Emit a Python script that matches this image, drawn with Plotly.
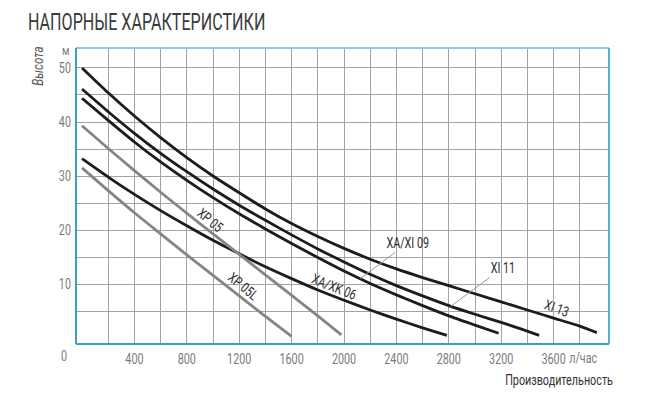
import numpy as np
import plotly.graph_objects as go

# ---------------- data ----------------
flow_xi13 = [0, 200, 400, 600, 800, 1000, 1200, 1400, 1600, 1800, 2000, 2200, 2400, 2600, 2800, 3000, 3200, 3400, 3600, 3800, 3930]
head_xi13 = [50.0, 45.4, 41.1, 37.1, 33.4, 30.0, 26.9, 23.9, 21.2, 18.8, 16.6, 14.6, 12.8, 11.2, 9.7, 8.2, 6.7, 5.2, 3.7, 2.2, 1.0]

flow_xi11 = [0, 200, 400, 600, 800, 1000, 1200, 1400, 1600, 1800, 2000, 2200, 2400, 2600, 2800, 3000, 3200, 3350, 3490]
head_xi11 = [46.1, 41.9, 37.9, 34.2, 30.8, 27.6, 24.6, 21.8, 19.1, 16.5, 14.1, 11.8, 9.7, 7.8, 6.0, 4.4, 2.9, 1.7, 0.5]

flow_xa09 = [0, 200, 400, 600, 800, 1000, 1200, 1400, 1600, 1800, 2000, 2200, 2400, 2600, 2800, 3000, 3180]
head_xa09 = [44.4, 40.3, 36.3, 32.6, 29.2, 26.0, 23.0, 20.2, 17.5, 14.9, 12.4, 10.1, 8.0, 6.0, 4.1, 2.4, 0.9]

flow_xa06 = [0, 200, 400, 600, 800, 1000, 1200, 1400, 1600, 1800, 2000, 2200, 2400, 2600, 2785]
head_xa06 = [33.2, 29.8, 26.6, 23.6, 20.8, 18.1, 15.6, 13.2, 11.0, 8.9, 7.0, 5.2, 3.5, 1.9, 0.5]

flow_xp05 = [0, 200, 400, 600, 800, 1000, 1200, 1400, 1600, 1800, 1980]
head_xp05 = [39.3, 35.1, 31.0, 27.0, 23.1, 19.3, 15.5, 11.7, 7.9, 4.1, 0.6]

flow_xp05l = [0, 200, 400, 600, 800, 1000, 1200, 1400, 1600]
head_xp05l = [31.5, 27.3, 23.2, 19.3, 15.4, 11.6, 7.8, 4.0, 0.3]

x_tick_values = list(range(200, 3801, 200))
x_tick_labels = [str(v) if v % 400 == 0 else "" for v in x_tick_values]
y_tick_values = list(range(5, 51, 5))
y_tick_labels = [str(v) if v % 10 == 0 else "" for v in y_tick_values]

title_text = "НАПОРНЫЕ ХАРАКТЕРИСТИКИ"
y_title = "Высота"
y_unit = "м"
x_title = "Производительность"
x_unit = "л/час"

# ---------------- styling ----------------
FONT = "Roboto, Liberation Sans, sans-serif"
BLACK = "#1c1c1c"
GREY = "#858585"
AXIS_BLUE = "#3a9fc2"
LIGHT_BLUE = "#8ccbe2"
GRID = "#a3a3a3"
TICK_COL = "#7a7a7a"

series = [
    ("XI 13", flow_xi13, head_xi13, BLACK),
    ("XI 11", flow_xi11, head_xi11, BLACK),
    ("XA/XI 09", flow_xa09, head_xa09, BLACK),
    ("XA/XK 06", flow_xa06, head_xa06, BLACK),
    ("XP 05", flow_xp05, head_xp05, GREY),
    ("XP 05L", flow_xp05l, head_xp05l, GREY),
]

fig = go.Figure()
for name, xs, ys, col in series:
    fig.add_trace(go.Scatter(
        x=xs, y=ys, mode="lines", name=name,
        line=dict(color=col, width=2.8, shape="spline", smoothing=0.6),
        showlegend=False, hoverinfo="skip"))

annotations = []

# slanted labels sitting on the curves
slanted = [
    ("XP 05", 979, 21.9, 40),
    ("XP 05L", 1230, 9.6, 40),
    ("XA/XK 06", 1931, 9.5, 22),
    ("XI 13", 3623, 5.6, 20),
]
for txt, lx, ly, ang in slanted:
    annotations.append(dict(x=lx, y=ly, xref="x", yref="y", text=txt, showarrow=False,
                            xanchor="center", yanchor="middle",
                            textangle=ang, font=dict(family=FONT, size=14, color="#2a2a2a")))

# labels with leader lines to their curves
leaders = [
    ("XA/XI 09", flow_xa09, head_xa09, 2122, 2487, 17.6),
    ("XI 11", flow_xi11, head_xi11, 2815, 3211, 13.0),
]
for txt, xs, ys, px_, lx, ly in leaders:
    py_ = float(np.interp(px_, xs, ys))
    annotations.append(dict(x=px_, y=py_, xref="x", yref="y", ax=lx, ay=ly, axref="x", ayref="y",
                            text=txt, showarrow=True, arrowhead=0, arrowwidth=1, arrowcolor="#9a9a9a",
                            standoff=0, startstandoff=0,
                            font=dict(family=FONT, size=14, color="#2a2a2a")))

def paper(px, py):
    return (px - 75.5) / 533.5, (344 - py) / 296.0

for txt, (px, py), kw in [
    ("<i>" + y_title + "</i>", (37, 66), dict(textangle=-90, font=dict(family=FONT, size=15, color="#555555"))),
    (y_unit, (65, 50), dict(font=dict(family=FONT, size=13, color=TICK_COL))),
    ("0", (63, 356), dict(font=dict(family=FONT, size=14, color=TICK_COL))),
    (x_unit, (583, 358), dict(font=dict(family=FONT, size=14, color=TICK_COL))),
    (x_title, (559, 380), dict(font=dict(family=FONT, size=14, color="#333333"))),
]:
    xp, yp = paper(px, py)
    annotations.append(dict(x=xp, y=yp, xref="paper", yref="paper", text=txt, showarrow=False,
                            xanchor="center", yanchor="middle", **kw))

shapes = [
    dict(type="line", xref="paper", yref="paper", x0=0, x1=1, y0=1, y1=1, line=dict(color=LIGHT_BLUE, width=2)),
    dict(type="line", xref="paper", yref="paper", x0=1, x1=1, y0=0, y1=1, line=dict(color="#52b3d3", width=2)),
    dict(type="line", xref="paper", yref="paper", x0=0, x1=0, y0=0, y1=1, line=dict(color=AXIS_BLUE, width=2)),
    dict(type="line", xref="paper", yref="paper", x0=0, x1=1, y0=0, y1=0, line=dict(color=AXIS_BLUE, width=2)),
]

fig.update_layout(
    width=655, height=397,
    margin=dict(l=75.5, r=45.5, t=48, b=53),
    paper_bgcolor="white", plot_bgcolor="white",
    title=dict(text=title_text, x=28 / 655, xanchor="left", y=1 - 22 / 397, yanchor="middle",
               font=dict(family=FONT, size=23, color="#3a3a3a")),
    annotations=annotations, shapes=shapes,
    xaxis=dict(range=[-46, 4023], tickvals=x_tick_values, ticktext=x_tick_labels,
               showgrid=True, gridcolor=GRID, gridwidth=1, zeroline=False, showline=False,
               ticks="", ticklabelstandoff=5, tickfont=dict(family=FONT, size=14, color=TICK_COL)),
    yaxis=dict(range=[-1.1, 53.7], tickvals=y_tick_values, ticktext=y_tick_labels,
               showgrid=True, gridcolor=GRID, gridwidth=1, zeroline=False, showline=False,
               ticks="", ticklabelstandoff=4, tickfont=dict(family=FONT, size=14, color=TICK_COL)),
)

# remove the page's default 8px body margin and narrow the glyphs (condensed look of the
# original face) by scaling each text horizontally about its own anchor point
post_js = """
document.body.style.margin = '0';
(function(){
  var gd = document.getElementById('{plot_id}');
  gd.querySelectorAll('text').forEach(function(t){
    if (!t.textContent) return;
    var k = (t.closest && t.closest('.g-gtitle')) ? 0.70 : 0.77;
    var X = parseFloat(t.getAttribute('x') || '0') || 0;
    var tr = t.getAttribute('transform') || '';
    t.setAttribute('transform', tr + ' translate(' + X + ',0) scale(' + k + ',1) translate(' + (-X) + ',0)');
  });
})();
"""

fig.write_html("out.html", post_script=post_js, config={"displayModeBar": False})
